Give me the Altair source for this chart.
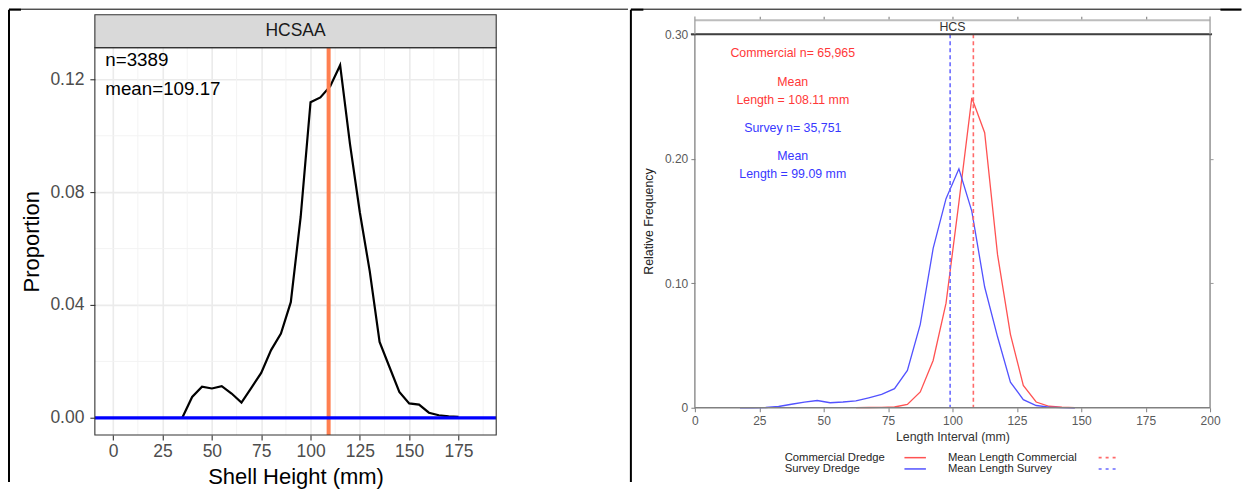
import altair as alt
import pandas as pd

F = "Liberation Sans"

# ---------------- Left panel: HCSAA ----------------
hcsaa_height = [35, 40, 45, 50, 55, 60, 65, 70, 75, 80, 85, 90, 95, 100, 105,
                110, 115, 120, 125, 130, 135, 140, 145, 150, 155, 160, 165, 170, 175]
hcsaa_prop = [0.0, 0.0074, 0.0110, 0.0104, 0.0112, 0.0086, 0.0054, 0.0106, 0.0159,
              0.0240, 0.0299, 0.0410, 0.0712, 0.1119, 0.1136, 0.1176, 0.1250, 0.0970,
              0.0728, 0.0520, 0.0269, 0.0180, 0.0092, 0.0051, 0.0047, 0.0018, 0.0009,
              0.0005, 0.0003]
hcsaa_labels = ["n=3389", "mean=109.17"]
hcsaa_label_y = [0.1270, 0.1167]
hcsaa_mean = [109.17]
hcsaa_zero = [0.0]
left_x_ticks = [0, 25, 50, 75, 100, 125, 150, 175]
left_y_ticks = [0.00, 0.04, 0.08, 0.12]
left_x_minor = [12.5, 37.5, 62.5, 87.5, 112.5, 137.5, 162.5, 187.5]
left_y_minor = [0.02, 0.06, 0.10]

# ---------------- Right panel: HCS ----------------
comm_len = [62.5, 67.5, 72.5, 77.5, 82.5, 87.5, 92.5, 97.5, 102.5, 107.5, 112.5,
            117.5, 122.5, 127.5, 132.5, 137.5, 142.5, 147.5]
comm_freq = [0.0001, 0.0002, 0.0003, 0.0006, 0.0027, 0.0127, 0.0380, 0.0840, 0.1650,
             0.2490, 0.2210, 0.1230, 0.0590, 0.0180, 0.0046, 0.0012, 0.0004, 0.0001]
surv_len = [17.5, 22.5, 27.5, 32.5, 37.5, 42.5, 47.5, 52.5, 57.5, 62.5, 67.5, 72.5,
            77.5, 82.5, 87.5, 92.5, 97.5, 102.5, 107.5, 112.5, 117.5, 122.5, 127.5,
            132.5, 137.5, 142.5, 147.5]
surv_freq = [0.0, 0.0, 0.0002, 0.0010, 0.0028, 0.0045, 0.0058, 0.0040, 0.0046, 0.0055,
             0.0080, 0.0107, 0.0153, 0.0300, 0.0670, 0.1280, 0.1680, 0.1920, 0.1580,
             0.0970, 0.0570, 0.0206, 0.0065, 0.0018, 0.0005, 0.0001, 0.0]
comm_mean = [108.11]
surv_mean = [99.09]
comm_text = ["Commercial n= 65,965", "Mean", "Length = 108.11 mm"]
comm_text_y = [0.2848, 0.2620, 0.2473]
surv_text = ["Survey n= 35,751", "Mean", "Length = 99.09 mm"]
surv_text_y = [0.2245, 0.2020, 0.1874]
text_x = 38
right_x_ticks = [0, 25, 50, 75, 100, 125, 150, 175, 200]
right_top_ticks = [25, 50, 75, 100, 125, 150, 175]
right_y_ticks = [0.0, 0.1, 0.2, 0.3]
right_y_side_ticks = [0.1, 0.2]

RED_LINE = "#FF5252"
BLUE_LINE = "#5252FF"
RED_TXT = "#FF3838"
BLUE_TXT = "#3838FF"

one = pd.DataFrame({"a": [1]})

# ================= LEFT CHART =================
# view spans from the shared top (strip region included) to the panel bottom
LW, LH = 402, 401.3
TOP = 13.3          # pixels between view top and panel top (strip overlap)
xsL = alt.Scale(domain=[-9.3, 194.1], nice=False, zero=False)
ysL = alt.Scale(domain=[-0.0061, 0.13595], nice=False, zero=False)

df_h = pd.DataFrame({"h": hcsaa_height, "p": hcsaa_prop})

minor_x = alt.Chart(pd.DataFrame({"v": left_x_minor})).mark_rule(
    color="#F2F2F2", strokeWidth=0.9).encode(
    x=alt.X("v:Q", scale=xsL, axis=None), y=alt.value(TOP), y2=alt.value(LH))
minor_y = alt.Chart(pd.DataFrame({"v": left_y_minor})).mark_rule(
    color="#F2F2F2", strokeWidth=0.9).encode(y=alt.Y("v:Q", scale=ysL, axis=None))

black_line = alt.Chart(df_h).mark_line(color="#000000", strokeWidth=2.2).encode(
    x=alt.X("h:Q", scale=xsL, axis=alt.Axis(
        values=left_x_ticks, title="Shell Height (mm)", grid=True, gridColor="#EBEBEB",
        gridWidth=1.6, domain=False, tickColor="#333333", tickSize=5, tickWidth=1.1,
        labelFont=F, labelFontSize=17.5, labelColor="#4D4D4D", labelPadding=12,
        labelBaseline="middle", labelFlush=False, titleFont=F, titleFontSize=22,
        titleColor="#000000", titleFontWeight="normal", titleY=42,
        titleBaseline="middle")),
    y=alt.Y("p:Q", scale=ysL, axis=alt.Axis(
        values=left_y_ticks, format=".2f", title="Proportion", grid=True,
        gridColor="#EBEBEB", gridWidth=1.6, domain=False, tickColor="#333333",
        tickSize=5, tickWidth=1.1, labelFont=F, labelFontSize=17.5,
        labelColor="#4D4D4D", labelPadding=6, titleFont=F, titleFontSize=22,
        titleColor="#000000", titleFontWeight="normal", titleX=-63, titleY=207.3,
        titleBaseline="middle")),
)

zero_line = alt.Chart(pd.DataFrame({"z": hcsaa_zero})).mark_rule(
    color="#0000FF", strokeWidth=3.3).encode(y=alt.Y("z:Q", scale=ysL, axis=None))
mean_line = alt.Chart(pd.DataFrame({"m": hcsaa_mean})).mark_rule(
    color="#FF7F50", strokeWidth=4).encode(
    x=alt.X("m:Q", scale=xsL, axis=None), y=alt.value(TOP), y2=alt.value(LH))

left_txt = alt.Chart(pd.DataFrame({"t": hcsaa_labels, "y": hcsaa_label_y,
                                   "x": [-4.0, -4.0]})).mark_text(
    align="left", baseline="middle", font=F, fontSize=18.8, color="#000000").encode(
    x=alt.X("x:Q", scale=xsL, axis=None), y=alt.Y("y:Q", scale=ysL, axis=None),
    text="t:N")

strip_L = alt.Chart(one).mark_rect(fill="#D9D9D9", stroke="#333333", strokeWidth=1.1).encode(
    x=alt.value(0), x2=alt.value(LW), y=alt.value(-19.7), y2=alt.value(TOP))
strip_L_txt = alt.Chart(one).mark_text(text="HCSAA", font=F, fontSize=17.5,
                                       color="#1A1A1A", baseline="middle").encode(
    x=alt.value(LW / 2), y=alt.value(-3.2))
frame_L = alt.Chart(one).mark_rect(fillOpacity=0, stroke="#333333", strokeWidth=1.1).encode(
    x=alt.value(0), x2=alt.value(LW), y=alt.value(TOP), y2=alt.value(LH))

bL_vert = alt.Chart(one).mark_rule(color="#000000", strokeWidth=2).encode(
    x=alt.value(-86), y=alt.value(-24.7), y2=alt.value(448.3))
bL_top = alt.Chart(one).mark_rule(color="#000000", strokeWidth=1).encode(
    x=alt.value(-86), x2=alt.value(534), y=alt.value(-25.2))
bL_top_thick = alt.Chart(one).mark_rule(color="#000000", strokeWidth=2).encode(
    x=alt.value(-86), x2=alt.value(-74), y=alt.value(-24.7))

left = alt.layer(minor_x, minor_y, black_line, mean_line, zero_line, left_txt,
                 strip_L, strip_L_txt, frame_L, bL_vert, bL_top, bL_top_thick
                 ).resolve_axis(x="independent", y="independent"
                 ).properties(width=LW, height=LH)

# ================= RIGHT CHART =================
RW, RH = 516, 374
xsR = alt.Scale(domain=[0, 200], nice=False, zero=False)
ysR = alt.Scale(domain=[0, 0.30], nice=False, zero=False)

df_c = pd.DataFrame({"l": comm_len, "f": comm_freq})
df_s = pd.DataFrame({"l": surv_len, "f": surv_freq})

comm_line = alt.Chart(df_c).mark_line(color=RED_LINE, strokeWidth=1.3).encode(
    x=alt.X("l:Q", scale=xsR, axis=alt.Axis(
        values=right_x_ticks, title="Length Interval (mm)", grid=False, domain=False,
        tickColor="#7F7F7F", tickSize=4, labelFont=F, labelFontSize=12,
        labelColor="#5A5A5A", labelPadding=8.7, labelBaseline="middle",
        labelFlush=False, titleFont=F, titleFontSize=12.4, titleColor="#333333",
        titleFontWeight="normal", titleY=28.7, titleBaseline="middle")),
    y=alt.Y("f:Q", scale=ysR, axis=alt.Axis(
        values=right_y_ticks, labelExpr="datum.value == 0 ? '0' : format(datum.value, '.2f')",
        title="Relative Frequency", grid=False, domain=False, tickColor="#7F7F7F",
        tickSize=4, labelFont=F, labelFontSize=12, labelColor="#5A5A5A",
        labelPadding=3.2, titleFont=F, titleFontSize=12.4, titleColor="#222222",
        titleFontWeight="normal", titleX=-46, titleY=RH / 2, titleBaseline="middle")),
)
surv_line = alt.Chart(df_s).mark_line(color=BLUE_LINE, strokeWidth=1.3).encode(
    x=alt.X("l:Q", scale=xsR, axis=None), y=alt.Y("f:Q", scale=ysR, axis=None))

side_axes = alt.Chart(df_s).mark_line(opacity=0).encode(
    x=alt.X("l:Q", scale=xsR, axis=alt.Axis(
        orient="top", offset=14.2, values=right_top_ticks, labels=False, domain=False,
        grid=False, tickColor="#8C8C8C", tickSize=4, tickWidth=1.2, title=None)),
    y=alt.Y("f:Q", scale=ysR, axis=alt.Axis(
        orient="right", values=right_y_side_ticks, labels=False, domain=False,
        grid=False, tickColor="#9A9A9A", tickSize=3, title=None)),
)

comm_mean_line = alt.Chart(pd.DataFrame({"m": comm_mean})).mark_rule(
    color="#FF6A6A", strokeWidth=1.6, strokeDash=[4, 3]).encode(
    x=alt.X("m:Q", scale=xsR, axis=None))
surv_mean_line = alt.Chart(pd.DataFrame({"m": surv_mean})).mark_rule(
    color="#6A6AFF", strokeWidth=1.6, strokeDash=[4, 3]).encode(
    x=alt.X("m:Q", scale=xsR, axis=None))

comm_txt = alt.Chart(pd.DataFrame({"t": comm_text, "y": comm_text_y,
                                   "x": [text_x] * 3})).mark_text(
    font=F, fontSize=12.4, color=RED_TXT, baseline="middle").encode(
    x=alt.X("x:Q", scale=xsR, axis=None), y=alt.Y("y:Q", scale=ysR, axis=None), text="t:N")
surv_txt = alt.Chart(pd.DataFrame({"t": surv_text, "y": surv_text_y,
                                   "x": [text_x] * 3})).mark_text(
    font=F, fontSize=12.4, color=BLUE_TXT, baseline="middle").encode(
    x=alt.X("x:Q", scale=xsR, axis=None), y=alt.Y("y:Q", scale=ysR, axis=None), text="t:N")

frame_R = alt.Chart(one).mark_rect(fillOpacity=0, stroke="#808080", strokeWidth=1.3).encode(
    x=alt.value(0), x2=alt.value(RW), y=alt.value(0), y2=alt.value(RH))
frame_R_top = alt.Chart(one).mark_rule(color="#404040", strokeWidth=2).encode(
    x=alt.value(-4), x2=alt.value(RW + 2), y=alt.value(0))
strip_R_line = alt.Chart(one).mark_rule(color="#BDBDBD", strokeWidth=2).encode(
    x=alt.value(0), x2=alt.value(RW), y=alt.value(-14.2))
strip_R_l = alt.Chart(one).mark_rule(color="#9E9E9E", strokeWidth=1.3).encode(
    x=alt.value(0), y=alt.value(-18), y2=alt.value(0))
strip_R_r = alt.Chart(one).mark_rule(color="#9E9E9E", strokeWidth=1.3).encode(
    x=alt.value(RW), y=alt.value(-18), y2=alt.value(0))
strip_R_txt = alt.Chart(one).mark_text(text="HCS", font=F, fontSize=12.4,
                                       color="#333333", baseline="middle").encode(
    x=alt.value(RW / 2), y=alt.value(-7))

# legend (manual, matching label-then-key layout)
LEG_Y1, LEG_Y2 = 424, 435.3
LEG_FS = 11.3
leg_t1 = alt.Chart(one).mark_text(text="Commercial Dredge", font=F, fontSize=LEG_FS,
                                  color="#262626", align="left", baseline="middle").encode(
    x=alt.value(89.9), y=alt.value(LEG_Y1))
leg_t2 = alt.Chart(one).mark_text(text="Survey Dredge", font=F, fontSize=LEG_FS,
                                  color="#262626", align="left", baseline="middle").encode(
    x=alt.value(89.9), y=alt.value(LEG_Y2))
leg_t3 = alt.Chart(one).mark_text(text="Mean Length Commercial", font=F, fontSize=LEG_FS,
                                  color="#262626", align="left", baseline="middle").encode(
    x=alt.value(253.4), y=alt.value(LEG_Y1))
leg_t4 = alt.Chart(one).mark_text(text="Mean Length Survey", font=F, fontSize=LEG_FS,
                                  color="#262626", align="left", baseline="middle").encode(
    x=alt.value(253.4), y=alt.value(LEG_Y2))
leg_s1 = alt.Chart(one).mark_rule(color=RED_LINE, strokeWidth=1.5).encode(
    x=alt.value(209.9), x2=alt.value(231.4), y=alt.value(LEG_Y1))
leg_s2 = alt.Chart(one).mark_rule(color=BLUE_LINE, strokeWidth=1.5).encode(
    x=alt.value(209.9), x2=alt.value(231.4), y=alt.value(LEG_Y2))
leg_s3 = alt.Chart(one).mark_rule(color="#FF6A6A", strokeWidth=1.6, strokeDash=[3, 4]).encode(
    x=alt.value(404.4), x2=alt.value(424.4), y=alt.value(LEG_Y1))
leg_s4 = alt.Chart(one).mark_rule(color="#6A6AFF", strokeWidth=1.6, strokeDash=[3, 4]).encode(
    x=alt.value(404.4), x2=alt.value(424.4), y=alt.value(LEG_Y2))

bR_vert = alt.Chart(one).mark_rule(color="#000000", strokeWidth=2).encode(
    x=alt.value(-64.1), y=alt.value(-24.7), y2=alt.value(448.3))
bR_top = alt.Chart(one).mark_rule(color="#000000", strokeWidth=1).encode(
    x=alt.value(-64.1), x2=alt.value(547.4), y=alt.value(-25.2))
bR_top_thick1 = alt.Chart(one).mark_rule(color="#000000", strokeWidth=2).encode(
    x=alt.value(-64.1), x2=alt.value(-51.6), y=alt.value(-24.7))
bR_top_thick2 = alt.Chart(one).mark_rule(color="#000000", strokeWidth=2).encode(
    x=alt.value(526.4), x2=alt.value(547.4), y=alt.value(-24.7))

right = alt.layer(
    comm_line, surv_line, side_axes, comm_mean_line, surv_mean_line, comm_txt, surv_txt,
    frame_R, frame_R_top, strip_R_line, strip_R_l, strip_R_r, strip_R_txt,
    leg_t1, leg_t2, leg_t3, leg_t4, leg_s1, leg_s2, leg_s3, leg_s4,
    bR_vert, bR_top, bR_top_thick1, bR_top_thick2,
).resolve_axis(x="independent", y="independent").properties(width=RW, height=RH)

chart = alt.hconcat(left, right, spacing=0).properties(
    padding=0, background="#FFFFFF"
).configure_view(strokeWidth=0)

chart.save("out.html", embed_options={"renderer": "svg", "actions": False})
